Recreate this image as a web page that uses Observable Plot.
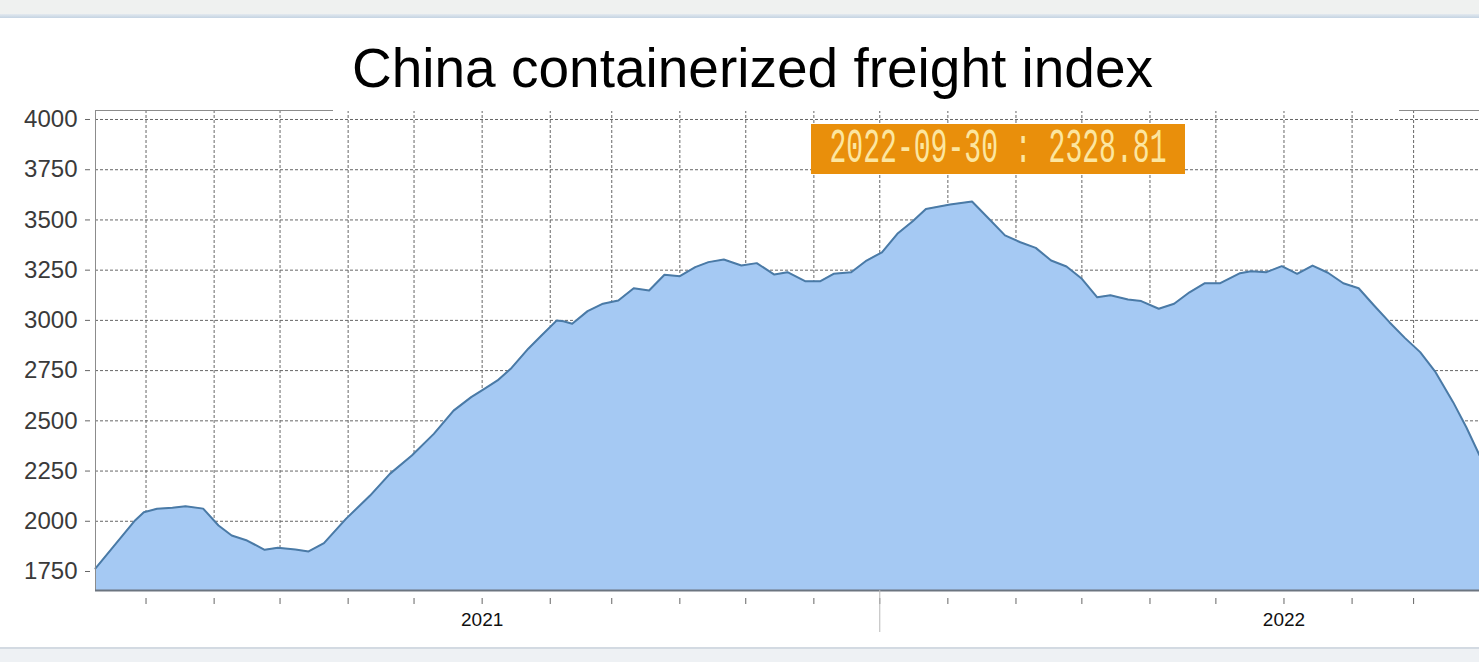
<!DOCTYPE html>
<html>
<head>
<meta charset="utf-8">
<script src="https://cdn.jsdelivr.net/npm/d3@7"></script>
<script src="https://cdn.jsdelivr.net/npm/@observablehq/plot@0.6"></script>
<style>
  html, body { margin: 0; padding: 0; background: #fff; width: 1479px; height: 662px; overflow: hidden; }
  #wrap { position: relative; width: 1479px; height: 662px; font-family: "Liberation Sans", Arial, sans-serif; }
  #topstrip { position: absolute; left: 0; top: 0; width: 1479px; height: 14px; background: #eff1f0; }
  #topline { position: absolute; left: 0; top: 14px; width: 1479px; height: 4px; background: linear-gradient(#e3e9ef, #c4d3e2); }
  #title { position: absolute; left: 333px; top: 28px; width: 1066px; height: 83px; background: #fff; z-index: 2;
           font-size: 55px; line-height: 55px; text-align: left; color: #000; box-sizing: border-box; padding-top: 13px; padding-left: 19px; white-space: nowrap; }
  #chart { position: absolute; left: 0; top: 0; z-index: 1; }
  #note { position: absolute; left: 811px; top: 124px; width: 374px; height: 50px; background: #e98f0b; z-index: 3; }
  #note span { position: absolute; left: 187px; top: 0; font-family: "Liberation Mono", "DejaVu Sans Mono", monospace; font-size: 48px; color: #fce6a0;
               white-space: pre; transform: translateX(-50%) scaleX(0.585); display: block; line-height: 50px; }
  #bottomline { position: absolute; left: 0; top: 647px; width: 1479px; height: 2px; background: #d3dae2; z-index: 2; }
  #bottomstrip { position: absolute; left: 0; top: 649px; width: 1479px; height: 13px; background: #eef1f4; z-index: 2; }
</style>
</head>
<body>
<div id="wrap">
  <div id="topstrip"></div>
  <div id="topline"></div>
  <div id="title">China containerized freight index</div>
  <div id="chart"></div>
  <div id="note"><span>2022-09-30 : 2328.81</span></div>
  <div id="bottomline"></div>
  <div id="bottomstrip"></div>
</div>
<script>
// ---- data ----
const dates = ["2020-07-09","2020-07-27","2020-07-31","2020-08-06","2020-08-13","2020-08-19","2020-08-27","2020-09-03","2020-09-09","2020-09-16","2020-09-24","2020-09-30","2020-10-08","2020-10-14","2020-10-21","2020-10-31","2020-11-11","2020-11-20","2020-11-30","2020-12-10","2020-12-19","2020-12-27",
"2021-01-02","2021-01-08","2021-01-14","2021-01-22","2021-01-28","2021-02-04","2021-02-07","2021-02-11","2021-02-18","2021-02-25","2021-03-04","2021-03-11","2021-03-18","2021-03-25","2021-04-01","2021-04-08","2021-04-14","2021-04-21","2021-04-29","2021-05-06","2021-05-14","2021-05-20","2021-05-28","2021-06-04","2021-06-10","2021-06-18","2021-06-25","2021-07-02","2021-07-09","2021-07-16","2021-07-22","2021-08-02","2021-08-12","2021-08-20","2021-08-27","2021-09-03","2021-09-10","2021-09-17","2021-09-24","2021-10-01","2021-10-08","2021-10-14","2021-10-22","2021-10-28","2021-11-05","2021-11-12","2021-11-19","2021-11-26","2021-12-03","2021-12-12","2021-12-17","2021-12-24","2021-12-31",
"2022-01-07","2022-01-14","2022-01-21","2022-01-28","2022-02-04","2022-02-11","2022-02-18","2022-02-25","2022-03-04","2022-03-11","2022-03-19","2022-03-25","2022-03-31"];
const values = [1765,2004,2045,2062,2067,2075,2063,1979,1929,1904,1858,1868,1860,1850,1891,2012,2128,2236,2327,2435,2551,2618,
2659,2701,2759,2859,2925,3000,2996,2983,3046,3083,3099,3160,3149,3227,3220,3265,3290,3303,3273,3285,3228,3240,3195,3195,3232,3240,3298,3339,3431,3494,3555,3577,3592,3502,3423,3389,3361,3298,3268,3207,3115,3125,3104,3096,3058,3083,3140,3185,3185,3235,3245,3240,3270,
3232,3273,3237,3185,3160,3074,2991,2913,2842,2742,2593,2468,2328.81];
const yTicks = [1750, 2000, 2250, 2500, 2750, 3000, 3250, 3500, 3750, 4000];
const yearLabels = ["2021-01-01", "2022-01-01"];
const midDivider = ["2021-07-01"];
const yMin = 1655.4, yMax = 4044.8;

const data = dates.map((d, i) => ({date: new Date(d), value: values[i]}));
const xDomain = [new Date(dates[0]), new Date(dates[dates.length - 1])];
const monthTicks = d3.utcMonths(new Date("2020-07-10"), xDomain[1]);

const chart = Plot.plot({
  width: 1479,
  height: 662,
  marginTop: 110,
  marginBottom: 72,
  marginLeft: 95,
  marginRight: 0,
  style: {background: "transparent", fontFamily: "Liberation Sans, Arial, sans-serif", overflow: "visible"},
  x: {type: "utc", domain: xDomain, label: null},
  y: {domain: [yMin, yMax], label: null},
  marks: [
    Plot.gridY(yTicks, {stroke: "#666", strokeOpacity: 1, strokeDasharray: "3,2"}),
    Plot.gridX(monthTicks, {stroke: "#666", strokeOpacity: 1, strokeDasharray: "3,2"}),
    Plot.areaY(data, {x: "date", y: "value", fill: "#a5c9f3", clip: true}),
    Plot.lineY(data, {x: "date", y: "value", stroke: "#4a7aa6", strokeWidth: 2}),
    Plot.frame({stroke: "#8c8c8c"}),
    Plot.ruleY([yMin], {stroke: "#6c7580", strokeWidth: 2}),
    Plot.axisY(yTicks, {tickSize: 5, dx: -5, tickPadding: 8, fontSize: 24, fill: "#3a3a3a", stroke: "#666", label: null, tickFormat: d => String(d)}),
    Plot.axisX(monthTicks, {tickSize: 6, dy: 8, fill: "none", stroke: "#666", label: null}),
    Plot.axisX(midDivider.map(d => new Date(d)), {tickSize: 42, fill: "none", stroke: "#b8b8b8", label: null}),
    Plot.axisX(yearLabels.map(d => new Date(d)), {tickSize: 0, tickPadding: 22, fontSize: 19, fill: "#111", label: null, tickFormat: d3.utcFormat("%Y")})
  ]
});
document.getElementById("chart").appendChild(chart);
</script>
</body>
</html>
